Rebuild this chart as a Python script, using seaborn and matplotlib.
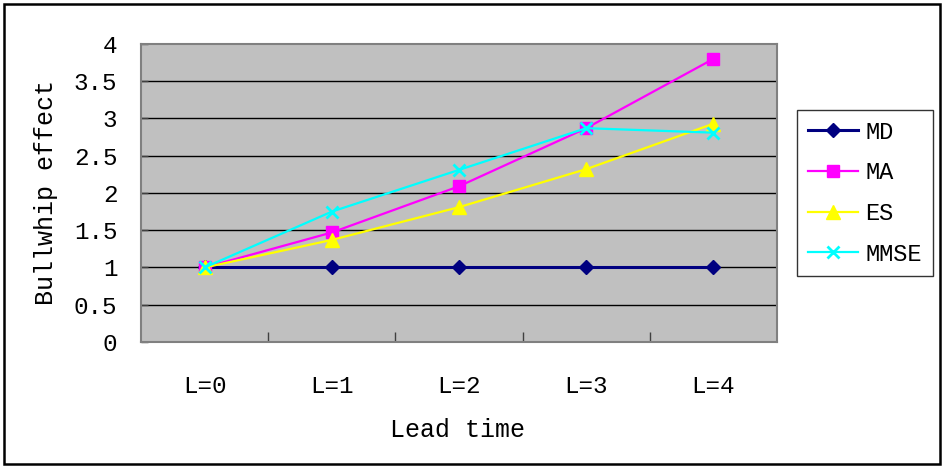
import matplotlib
matplotlib.use("Agg")
import matplotlib.pyplot as plt
from matplotlib.patches import Rectangle
import seaborn as sns
import pandas as pd

# Lead time categories and bullwhip effect per forecasting method
lead_times = ["L=0", "L=1", "L=2", "L=3", "L=4"]
md = [1.00, 1.00, 1.00, 1.00, 1.00]
ma = [1.00, 1.47, 2.09, 2.87, 3.80]
es = [1.00, 1.37, 1.81, 2.32, 2.93]
mmse = [1.00, 1.75, 2.31, 2.87, 2.81]
y_ticks = [0, 0.5, 1, 1.5, 2, 2.5, 3, 3.5, 4]

plt.rcParams["font.family"] = ["Liberation Mono", "DejaVu Sans Mono"]

fig = plt.figure(figsize=(9.45, 4.69), dpi=100)
W, H = 945, 469
ax = fig.add_axes([141 / W, 1 - 342 / H, (777 - 141) / W, (342 - 44) / H])
ax.set_facecolor("#C0C0C0")

pos = list(range(len(lead_times)))
series = [
    ("MD", md, "#000080", "D", 7.5, 2.2, 1.0),
    ("MA", ma, "#FF00FF", "s", 9.0, 1.6, 1.0),
    ("ES", es, "#FFFF00", "^", 10.0, 1.6, 1.0),
    ("MMSE", mmse, "#00FFFF", "x", 9.0, 1.6, 2.0),
]
for name, vals, color, marker, ms, lw, mew in series:
    df = pd.DataFrame({"pos": pos, "value": vals})
    sns.lineplot(data=df, x="pos", y="value", ax=ax, color=color, marker=marker,
                 markersize=ms, linewidth=lw, markeredgecolor=color,
                 markeredgewidth=mew, label=name, legend=False, zorder=3)

ax.set_xlim(-0.5, len(lead_times) - 0.5)
ax.set_ylim(0, 4)
ax.set_yticks(y_ticks)
ax.set_yticklabels([f"{t:g}" for t in y_ticks], fontsize=17.5)
ax.set_xticks(pos)
ax.set_xticklabels(lead_times, fontsize=17.5)
ax.set_xticks([p + 0.5 for p in pos[:-1]], minor=True)
ax.tick_params(axis="x", which="major", length=0, pad=24)
ax.tick_params(axis="x", which="minor", direction="in", length=7, width=1, color="#404040")
ax.tick_params(axis="y", direction="in", length=5, width=1, color="#404040", pad=17)

ax.grid(False)
for t in y_ticks[1:-1]:
    ax.axhline(t, color="black", linewidth=1.0, zorder=1)
for s in ax.spines.values():
    s.set_color("#808080")
    s.set_linewidth(1.5)

ax.set_xlabel("Lead time", fontsize=18)
ax.set_ylabel("Bullwhip effect", fontsize=18)
ax.xaxis.label.set_va("center")
ax.yaxis.label.set_va("center")
ax.xaxis.set_label_coords(0.497, -0.295)
ax.yaxis.set_label_coords(-0.149, 0.503)

handles, labels = ax.get_legend_handles_labels()
leg = fig.legend(handles, labels, loc="upper left",
                 bbox_to_anchor=(797 / W, 1 - 110 / H), fontsize=17,
                 frameon=True, fancybox=False, edgecolor="black",
                 handlelength=2.15, handletextpad=0.3, labelspacing=0.75,
                 borderpad=0.45, borderaxespad=0)
leg.get_frame().set_linewidth(1.0)

fig.patches.append(Rectangle((4 / W, 5 / H), (940 - 4) / W, (465 - 5) / H,
                             transform=fig.transFigure, fill=False,
                             edgecolor="black", linewidth=1.8))

fig.savefig("out.png", dpi=100, facecolor="white")
